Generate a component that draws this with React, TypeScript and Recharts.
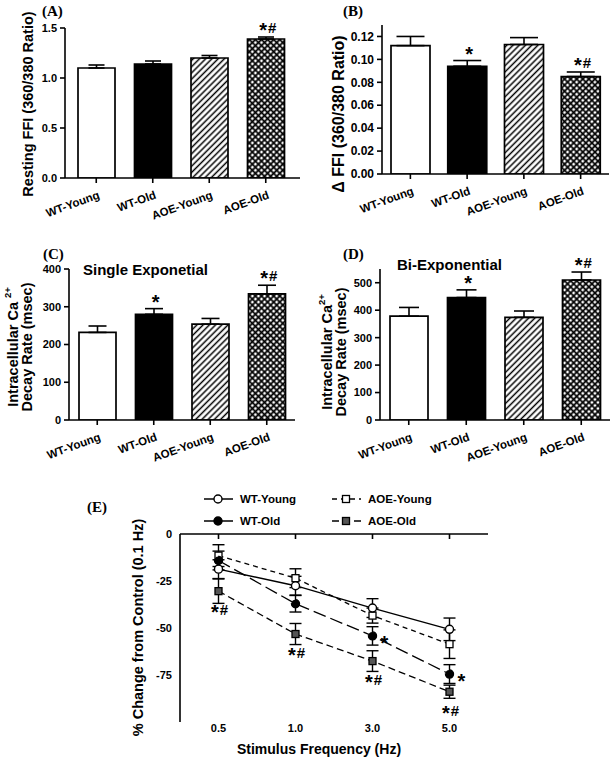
import React from 'react';
import { ComposedChart, Bar, Line, XAxis, YAxis, ErrorBar, Cell, LabelList, Legend } from 'recharts';

const GROUPS = ['WT-Young', 'WT-Old', 'AOE-Young', 'AOE-Old'];

const RESTING_FFI = [1.10, 1.14, 1.20, 1.39];
const RESTING_FFI_SEM = [0.03, 0.03, 0.025, 0.02];
const RESTING_FFI_SIG = ['', '', '', '*#'];
const RESTING_TICKS = [0, 0.5, 1.0, 1.5];

const DELTA_FFI = [0.112, 0.094, 0.113, 0.085];
const DELTA_FFI_SEM = [0.008, 0.005, 0.006, 0.004];
const DELTA_FFI_SIG = ['', '*', '', '*#'];
const DELTA_TICKS = [0, 0.02, 0.04, 0.06, 0.08, 0.1, 0.12];

const SINGLE_DECAY = [232, 280, 254, 334];
const SINGLE_DECAY_SEM = [17, 15, 15, 23];
const SINGLE_DECAY_SIG = ['', '*', '', '*#'];
const SINGLE_TICKS = [0, 100, 200, 300, 400];

const BI_DECAY = [378, 446, 374, 510];
const BI_DECAY_SEM = [32, 28, 23, 29];
const BI_DECAY_SIG = ['', '*', '', '*#'];
const BI_TICKS = [0, 100, 200, 300, 400, 500];

const FREQUENCIES = ['0.5', '1.0', '3.0', '5.0'];
const WT_YOUNG_CHANGE = [-18.7, -27.5, -39.4, -50.7];
const WT_YOUNG_SEM = [5, 5, 5, 6];
const WT_OLD_CHANGE = [-14.1, -37.1, -54.2, -74.5];
const WT_OLD_SEM = [5, 4.4, 4.9, 5];
const WT_OLD_SIG = ['', '', '*', '*'];
const AOE_YOUNG_CHANGE = [-11.5, -23.5, -43.4, -58.6];
const AOE_YOUNG_SEM = [5.8, 5, 4, 7.6];
const AOE_OLD_CHANGE = [-30.4, -53.2, -67.6, -83.9];
const AOE_OLD_SEM = [6.5, 5.6, 5.5, 3.5];
const AOE_OLD_SIG = ['*#', '*#', '*#', '*#'];
const CHANGE_TICKS = [0, -25, -50, -75];

const SANS = '"Liberation Sans", Arial, Helvetica, sans-serif';
const SERIF = '"Liberation Serif", "Times New Roman", serif';
const AXIS = { stroke: '#000', strokeWidth: 1.6 };
const TICK = { fill: '#000', fontSize: 11, fontWeight: 'bold', fontFamily: SANS };

const SlantTick = (props: any) => {
  const { x, y, payload } = props;
  return (
    <text
      transform={`translate(${x + 4},${y + 13}) rotate(-20)`}
      textAnchor="end"
      fill="#000"
      fontSize={11.5}
      fontWeight="bold"
      fontFamily={SANS}
    >
      {payload.value}
    </text>
  );
};

// significance marks: a large star and a hash sharing a visual centre line
const SigText = ({ x, y, value, anchor }: { x: number; y: number; value: string; anchor: string }) => {
  const hasHash = value.indexOf('#') >= 0;
  return (
    <text x={x} y={y} textAnchor={anchor as any} fill="#000" fontWeight="bold" fontFamily={SANS}>
      <tspan fontSize={20} dy={4}>*</tspan>
      {hasHash ? (
        <tspan fontSize={15} dy={-4} dx={1}>
          #
        </tspan>
      ) : null}
    </text>
  );
};

const SigLabel = (props: any) => {
  const { x, y, value } = props;
  if (!value) return null;
  return <SigText x={x + 2} y={y - 4} value={value} anchor="middle" />;
};

const rotatedTitle = (lines: { text: React.ReactNode; x: number }[], cy: number, size: number) => () => (
  <g>
    {lines.map((l, i) => (
      <text
        key={i}
        transform={`translate(${l.x},${cy}) rotate(-90)`}
        textAnchor="middle"
        dominantBaseline="central"
        fill="#000"
        fontSize={size}
        fontWeight="bold"
        fontFamily={SANS}
      >
        {l.text}
      </text>
    ))}
  </g>
);

const caLine = (gap: string) => (
  <>
    <tspan>{'Intracellular Ca' + gap}</tspan>
    <tspan dy={-6} fontSize={9.5}>2+</tspan>
  </>
);

const Corner = ({ text, x, y, serif, size }: { text: string; x: number; y: number; serif?: boolean; size: number }) => (
  <div
    style={{
      position: 'absolute',
      left: x,
      top: y,
      fontFamily: serif ? SERIF : SANS,
      fontWeight: 'bold',
      fontSize: size,
      lineHeight: 1,
      whiteSpace: 'nowrap',
      color: '#000',
    }}
  >
    {text}
  </div>
);

function BarPanel(p: any) {
  const data = GROUPS.map((g, i) => ({
    group: g,
    value: p.values[i],
    err: [0, p.sems[i]],
    top: p.values[i] + p.sems[i],
    sig: p.sig[i],
  }));
  const fills = ['#ffffff', '#000000', `url(#hatch-${p.id})`, `url(#cross-${p.id})`];
  return (
    <div style={{ position: 'absolute', left: p.left, top: p.top, width: p.width, height: p.height }}>
      <ComposedChart width={p.width} height={p.height} data={data} margin={p.margin}>
        <defs>
          <pattern id={`hatch-${p.id}`} patternUnits="userSpaceOnUse" width={4.4} height={4.4} patternTransform="rotate(45)">
            <rect width={4.4} height={4.4} fill="#fff" />
            <line x1={2.2} y1={0} x2={2.2} y2={4.4} stroke="#000" strokeWidth={1.5} />
          </pattern>
          <pattern id={`cross-${p.id}`} patternUnits="userSpaceOnUse" width={4.3} height={4.3} patternTransform="rotate(45)">
            <rect width={4.3} height={4.3} fill="#fff" />
            <path d="M2.15 0 V4.3 M0 2.15 H4.3" stroke="#000" strokeWidth={1.8} />
          </pattern>
        </defs>
        <XAxis
          dataKey="group"
          interval={0}
          height={p.xHeight}
          tickSize={5}
          tickMargin={2}
          padding={p.padding}
          axisLine={AXIS}
          tickLine={AXIS}
          tick={<SlantTick />}
        />
        <YAxis
          type="number"
          domain={p.domain}
          ticks={p.ticks}
          interval={0}
          allowDataOverflow
          tickFormatter={p.fmt}
          width={p.yWidth}
          tickSize={5}
          tickMargin={3}
          axisLine={AXIS}
          tickLine={AXIS}
          tick={{ ...TICK, fontSize: p.tickSize || 11 }}
          label={{ content: p.yTitle }}
        />
        <Bar dataKey="value" barSize={p.barSize} stroke="#000" strokeWidth={1.7} isAnimationActive={false}>
          {data.map((d, i) => (
            <Cell key={d.group} fill={fills[i]} />
          ))}
          <ErrorBar dataKey="err" direction="y" width={p.capWidth} stroke="#000" strokeWidth={1.6} />
        </Bar>
        <Line dataKey="top" stroke="none" dot={false} activeDot={false} isAnimationActive={false} legendType="none">
          <LabelList dataKey="sig" content={SigLabel} />
        </Line>
      </ComposedChart>
      <Corner text={p.letter} x={p.letterX} y={p.letterY} serif size={15} />
      {p.subtitle ? <Corner text={p.subtitle} x={p.subX} y={p.subY} size={15} /> : null}
    </div>
  );
}

const DownTick = (props: any) => {
  const { x, y } = props;
  return <line x1={x} y1={y} x2={x} y2={y + 5} stroke="#000" strokeWidth={1.6} />;
};

const E_TICK = { fill: '#000', fontSize: 11, fontWeight: 'bold', fontFamily: SANS };

const squareDot = (fill: string) => (props: any) => {
  const { cx, cy, index } = props;
  if (cx == null || cy == null) return <g key={index} />;
  return <rect key={index} x={cx - 3.5} y={cy - 3.5} width={7} height={7} fill={fill} stroke="#000" strokeWidth={1.3} />;
};

const AoeOldSig = (props: any) => {
  const { x, y, value } = props;
  if (!value) return null;
  return <SigText x={x + 1} y={y + 24} value={value} anchor="middle" />;
};

const WtOldSig = (props: any) => {
  const { x, y, value } = props;
  if (!value) return null;
  return <SigText x={x + 12} y={y + 10} value={value} anchor="middle" />;
};

const LEGEND_ITEMS = [
  { name: 'WT-Young', col: 0, row: 0, dash: undefined as string | undefined, marker: 'circle', fill: '#fff' },
  { name: 'AOE-Young', col: 1, row: 0, dash: '5 4', marker: 'square', fill: '#fff' },
  { name: 'WT-Old', col: 0, row: 1, dash: '13 5', marker: 'circle', fill: '#000' },
  { name: 'AOE-Old', col: 1, row: 1, dash: '7 4', marker: 'square', fill: '#555' },
];

const FreqLegend = () => (
  <svg width={260} height={44} style={{ display: 'block' }}>
    {LEGEND_ITEMS.map((it) => {
      const x0 = it.col === 0 ? 5 : 133;
      const y = it.row === 0 ? 11 : 33;
      const mx = x0 + 14;
      return (
        <g key={it.name}>
          <line x1={x0} y1={y} x2={x0 + 29} y2={y} stroke="#000" strokeWidth={1.5} strokeDasharray={it.dash} />
          {it.marker === 'circle' ? (
            <circle cx={mx} cy={y} r={4} fill={it.fill} stroke="#000" strokeWidth={1.4} />
          ) : (
            <rect x={mx - 3.5} y={y - 3.5} width={7} height={7} fill={it.fill} stroke="#000" strokeWidth={1.3} />
          )}
          <text x={x0 + 36} y={y} dominantBaseline="central" fill="#000" fontSize={11.5} fontWeight="bold" fontFamily={SANS}>
            {it.name}
          </text>
        </g>
      );
    })}
  </svg>
);

const eYTitle = rotatedTitle([{ text: '% Change from Control (0.1 Hz)', x: 137.5 }], 157.5, 14.5);
const eXTitle = () => (
  <text x={319} y={284} textAnchor="middle" fill="#000" fontSize={14} fontWeight="bold" fontFamily={SANS}>
    Stimulus Frequency (Hz)
  </text>
);

function FrequencyPanel() {
  const data = FREQUENCIES.map((f, i) => ({
    freq: f,
    wy: WT_YOUNG_CHANGE[i],
    wyErr: WT_YOUNG_SEM[i],
    wo: WT_OLD_CHANGE[i],
    woErr: WT_OLD_SEM[i],
    woSig: WT_OLD_SIG[i],
    ay: AOE_YOUNG_CHANGE[i],
    ayErr: AOE_YOUNG_SEM[i],
    ao: AOE_OLD_CHANGE[i],
    aoErr: AOE_OLD_SEM[i],
    aoSig: AOE_OLD_SIG[i],
  }));
  const pad = { left: 38.5, right: 38.5 };
  return (
    <div style={{ position: 'absolute', left: 0, top: 470, width: 611, height: 288 }}>
      <ComposedChart width={611} height={288} data={data} margin={{ top: 63, right: 123, bottom: 16, left: 0 }}>
        <XAxis
          xAxisId="top"
          dataKey="freq"
          orientation="top"
          height={1}
          interval={0}
          padding={pad}
          tickSize={0}
          tickMargin={0}
          tickLine={false}
          axisLine={AXIS}
          tick={<DownTick />}
        />
        <XAxis
          xAxisId="bottom"
          dataKey="freq"
          orientation="bottom"
          height={20}
          interval={0}
          padding={pad}
          tickSize={0}
          tickMargin={2}
          tickLine={false}
          axisLine={false}
          tick={E_TICK}
          label={{ content: eXTitle }}
        />
        <YAxis
          type="number"
          domain={[-100, 0]}
          ticks={CHANGE_TICKS}
          interval={0}
          allowDataOverflow
          width={180}
          tickSize={0}
          tickMargin={8}
          tickLine={false}
          axisLine={AXIS}
          tick={E_TICK}
          label={{ content: eYTitle }}
        />
        <Line
          xAxisId="top"
          dataKey="ao"
          stroke="#000"
          strokeWidth={1.3}
          strokeDasharray="7 4"
          dot={squareDot('#555')}
          activeDot={false}
          isAnimationActive={false}
        >
          <ErrorBar dataKey="aoErr" direction="y" width={6} stroke="#000" strokeWidth={1.4} />
          <LabelList dataKey="aoSig" content={AoeOldSig} />
        </Line>
        <Line
          xAxisId="top"
          dataKey="ay"
          stroke="#000"
          strokeWidth={1.3}
          strokeDasharray="5 4"
          dot={squareDot('#fff')}
          activeDot={false}
          isAnimationActive={false}
        >
          <ErrorBar dataKey="ayErr" direction="y" width={6} stroke="#000" strokeWidth={1.4} />
        </Line>
        <Line
          xAxisId="top"
          dataKey="wy"
          stroke="#000"
          strokeWidth={1.4}
          dot={{ r: 4, fill: '#fff', stroke: '#000', strokeWidth: 1.4 }}
          activeDot={false}
          isAnimationActive={false}
        >
          <ErrorBar dataKey="wyErr" direction="y" width={6} stroke="#000" strokeWidth={1.4} />
        </Line>
        <Line
          xAxisId="top"
          dataKey="wo"
          stroke="#000"
          strokeWidth={1.3}
          strokeDasharray="13 5"
          dot={{ r: 4, fill: '#000', stroke: '#000', strokeWidth: 1.4 }}
          activeDot={false}
          isAnimationActive={false}
        >
          <ErrorBar dataKey="woErr" direction="y" width={6} stroke="#000" strokeWidth={1.4} />
          <LabelList dataKey="woSig" content={WtOldSig} />
        </Line>
        <Legend
          layout="vertical"
          align="center"
          verticalAlign="middle"
          content={<FreqLegend />}
          wrapperStyle={{ position: 'absolute', left: 199, top: 18, width: 260, height: 44 }}
        />
      </ComposedChart>
      <Corner text="(E)" x={87} y={30} serif size={15} />
    </div>
  );
}

export default function App() {
  return (
    <div style={{ position: 'absolute', left: 0, top: 0, width: 611, height: 758, background: '#fff', overflow: 'hidden' }}>
      <BarPanel
        id="a"
        left={0}
        top={0}
        width={305}
        height={225}
        margin={{ top: 28, right: 5, bottom: 2, left: 0 }}
        xHeight={45}
        yWidth={65}
        padding={{ left: 3, right: 6 }}
        values={RESTING_FFI}
        sems={RESTING_FFI_SEM}
        sig={RESTING_FFI_SIG}
        domain={[0, 1.5]}
        ticks={RESTING_TICKS}
        fmt={(v: number) => v.toFixed(1)}
        barSize={37}
        capWidth={8}
        yTitle={rotatedTitle([{ text: 'Resting FFI (360/380 Ratio)', x: 28 }], 104, 14.5)}
        letter="(A)"
        letterX={42}
        letterY={4}
      />
      <BarPanel
        id="b"
        left={300}
        top={0}
        width={311}
        height={225}
        margin={{ top: 25, right: 2, bottom: 2, left: 0 }}
        xHeight={49}
        yWidth={82}
        padding={{ left: 0, right: 0 }}
        values={DELTA_FFI}
        sems={DELTA_FFI_SEM}
        sig={DELTA_FFI_SIG}
        domain={[0, 0.13]}
        ticks={DELTA_TICKS}
        tickSize={12}
        fmt={(v: number) => v.toFixed(2)}
        barSize={39}
        capWidth={14}
        yTitle={rotatedTitle([{ text: 'Δ FFI (360/380 Ratio)', x: 38 }], 114, 16)}
        letter="(B)"
        letterX={43}
        letterY={4}
      />
      <BarPanel
        id="c"
        left={0}
        top={220}
        width={310}
        height={250}
        margin={{ top: 49, right: 15, bottom: 2, left: 0 }}
        xHeight={48}
        yWidth={69}
        padding={{ left: 0, right: 0 }}
        values={SINGLE_DECAY}
        sems={SINGLE_DECAY_SEM}
        sig={SINGLE_DECAY_SIG}
        domain={[0, 400]}
        ticks={SINGLE_TICKS}
        fmt={(v: number) => String(v)}
        barSize={37}
        capWidth={9}
        yTitle={rotatedTitle(
          [
            { text: caLine(' '), x: 13 },
            { text: 'Decay Rate (msec)', x: 27 },
          ],
          127,
          14.5
        )}
        letter="(C)"
        letterX={43}
        letterY={27}
        subtitle="Single Exponetial"
        subX={83}
        subY={42}
      />
      <BarPanel
        id="d"
        left={300}
        top={220}
        width={311}
        height={250}
        margin={{ top: 49, right: 1, bottom: 2, left: 0 }}
        xHeight={48}
        yWidth={80}
        padding={{ left: 0, right: 0 }}
        values={BI_DECAY}
        sems={BI_DECAY_SEM}
        sig={BI_DECAY_SIG}
        domain={[0, 550]}
        ticks={BI_TICKS}
        fmt={(v: number) => String(v)}
        barSize={38}
        capWidth={10}
        yTitle={rotatedTitle(
          [
            { text: caLine(''), x: 27 },
            { text: 'Decay Rate (msec)', x: 41 },
          ],
          132,
          14.5
        )}
        letter="(D)"
        letterX={43}
        letterY={27}
        subtitle="Bi-Exponential"
        subX={97}
        subY={37}
      />
      <FrequencyPanel />
    </div>
  );
}
